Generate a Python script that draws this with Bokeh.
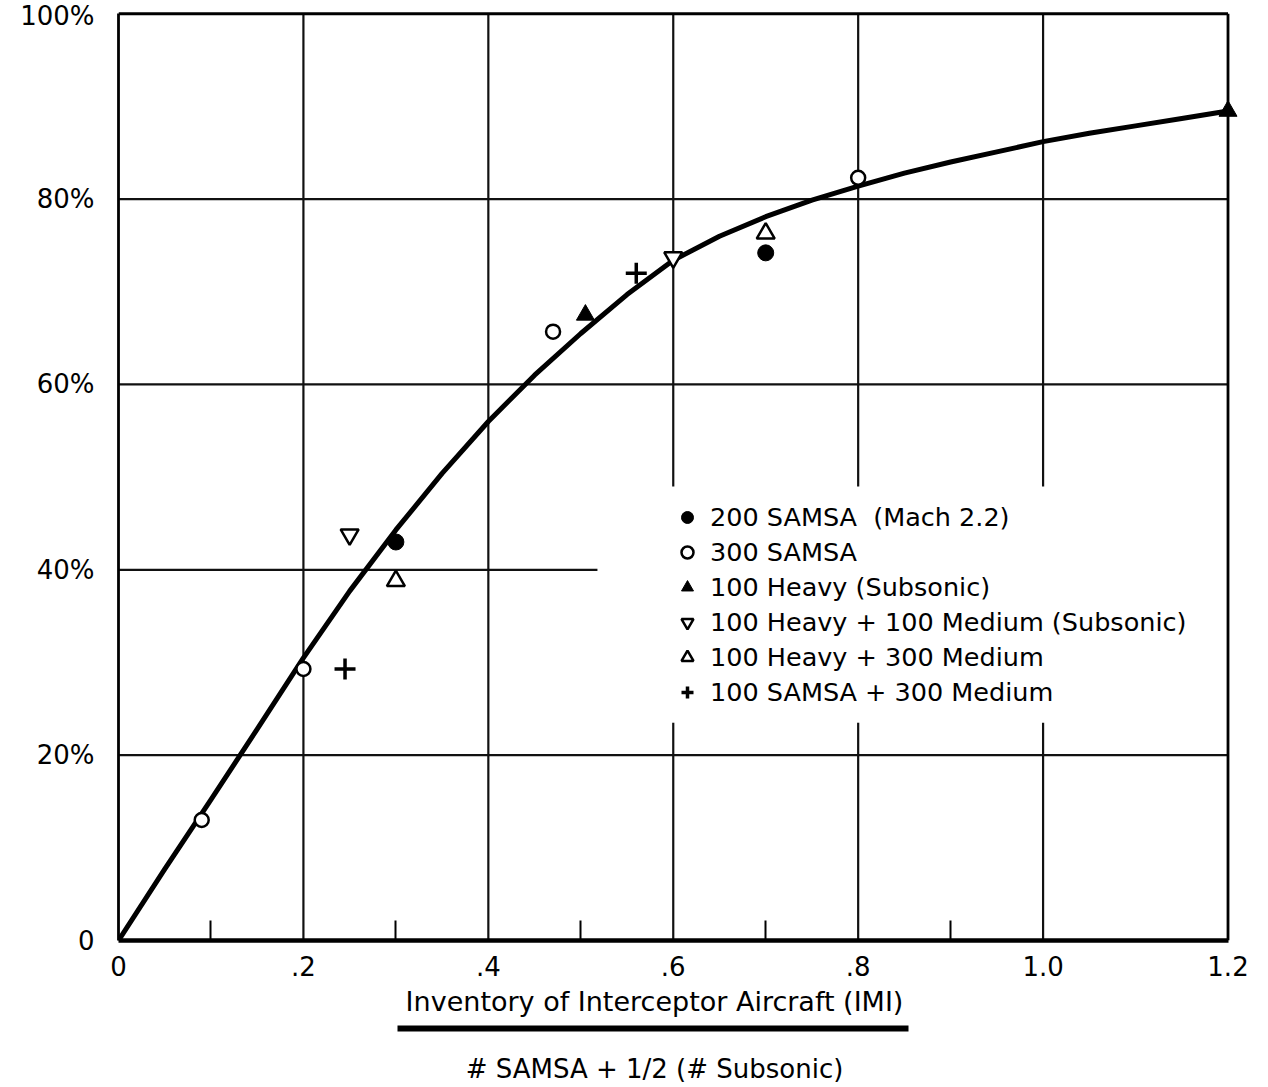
from bokeh.plotting import figure
from bokeh.layouts import column
from bokeh.models import FixedTicker, Legend, LegendItem, Range1d
from bokeh.core.properties import value
from bokeh.embed import file_html
from bokeh.resources import INLINE

FONT = "DejaVu Sans"

# axis ticks
x_ticks = [0, 0.2, 0.4, 0.6, 0.8, 1.0, 1.2]
x_tick_labels = ["0", ".2", ".4", ".6", ".8", "1.0", "1.2"]
x_minor_ticks = [0.1, 0.3, 0.5, 0.7, 0.9]
y_ticks = [0, 0.2, 0.4, 0.6, 0.8, 1.0]
y_tick_labels = ["0", "20%", "40%", "60%", "80%", "100%"]

# fitted curve
curve_x = [0, 0.05, 0.1, 0.15, 0.2, 0.25, 0.3, 0.35, 0.4, 0.45, 0.5, 0.55, 0.6,
           0.65, 0.7, 0.75, 0.8, 0.85, 0.9, 0.95, 1.0, 1.05, 1.1, 1.15, 1.2]
curve_y = [0, 0.077, 0.152, 0.228, 0.305, 0.377, 0.443, 0.504, 0.560, 0.610,
           0.655, 0.697, 0.734, 0.760, 0.781, 0.799, 0.814, 0.828, 0.840, 0.851,
           0.862, 0.871, 0.879, 0.887, 0.895]

# observed cases
samsa200_x = [0.30, 0.70]
samsa200_y = [0.430, 0.742]
samsa300_x = [0.09, 0.20, 0.47, 0.80]
samsa300_y = [0.130, 0.293, 0.657, 0.823]
heavy_x = [0.505, 1.20]
heavy_y = [0.675, 0.895]
heavy_med100_x = [0.25, 0.60]
heavy_med100_y = [0.438, 0.737]
heavy_med300_x = [0.30, 0.70]
heavy_med300_y = [0.388, 0.763]
samsa_med300_x = [0.245, 0.56]
samsa_med300_y = [0.293, 0.720]

legend_labels = [
    "200 SAMSA  (Mach 2.2)",
    "300 SAMSA",
    "100 Heavy (Subsonic)",
    "100 Heavy + 100 Medium (Subsonic)",
    "100 Heavy + 300 Medium",
    "100 SAMSA + 300 Medium",
]

x_title = "Inventory of Interceptor Aircraft (IMI)"
x_title_denominator = "# SAMSA + 1/2 (# Subsonic)"

# grid layout: full lines, and lines broken around the legend block
vgrid_full = [0.2, 0.4]
vgrid_broken = [0.6, 0.8, 1.0]
legend_gap = (0.235, 0.49)
hgrid_full = [0.2, 0.6, 0.8]
hgrid_short = [0.4]
hgrid_short_end = 0.518
X_MAX, Y_MAX = 1.2, 1.0

FRAME_LEFT, FRAME_RIGHT_PAD, FIG_W = 118, 22, 1268

p = figure(width=FIG_W, height=985, output_backend="svg", toolbar_location=None,
           x_range=Range1d(0, 1.22), y_range=Range1d(0, 1.01),
           min_border_left=FRAME_LEFT, min_border_right=FRAME_RIGHT_PAD,
           min_border_top=4, min_border_bottom=45)
p.outline_line_color = None
p.xgrid.visible = False
p.ygrid.visible = False
p.background_fill_color = "white"
p.border_fill_color = "white"

GRID_W = 2.2
GRID_C = "#111111"

# vertical grid lines
p.segment(x0=vgrid_full, y0=[0] * len(vgrid_full), x1=vgrid_full,
          y1=[Y_MAX] * len(vgrid_full), line_color=GRID_C, line_width=GRID_W)
p.segment(x0=vgrid_broken, y0=[legend_gap[1]] * 3, x1=vgrid_broken,
          y1=[Y_MAX] * 3, line_color=GRID_C, line_width=GRID_W)
p.segment(x0=vgrid_broken, y0=[0] * 3, x1=vgrid_broken,
          y1=[legend_gap[0]] * 3, line_color=GRID_C, line_width=GRID_W)
# horizontal grid lines
p.segment(x0=[0] * len(hgrid_full), y0=hgrid_full, x1=[X_MAX] * len(hgrid_full),
          y1=hgrid_full, line_color=GRID_C, line_width=GRID_W)
p.segment(x0=[0], y0=hgrid_short, x1=[hgrid_short_end], y1=hgrid_short,
          line_color=GRID_C, line_width=GRID_W)
# top and right frame edges
p.segment(x0=[0, X_MAX], y0=[Y_MAX, 0], x1=[X_MAX, X_MAX], y1=[Y_MAX, Y_MAX],
          line_color="black", line_width=2.8)

# axes
xa = p.xaxis[0]
xa.bounds = (0, X_MAX)
xa.ticker = FixedTicker(ticks=x_ticks, minor_ticks=x_minor_ticks)
xa.major_label_overrides = {t: s for t, s in zip(x_ticks, x_tick_labels)}
xa.axis_line_width = 4.5
xa.axis_line_color = "black"
xa.major_tick_in = 0
xa.major_tick_out = 0
xa.minor_tick_in = 20
xa.minor_tick_out = 0
xa.minor_tick_line_width = 2
xa.minor_tick_line_color = "black"
xa.major_label_standoff = 15
xa.major_label_text_font = FONT
xa.major_label_text_font_size = "26px"
xa.major_label_text_color = "black"

ya = p.yaxis[0]
ya.bounds = (0, Y_MAX)
ya.ticker = FixedTicker(ticks=y_ticks, minor_ticks=[])
ya.major_label_overrides = {t: s for t, s in zip(y_ticks, y_tick_labels)}
ya.axis_line_width = 2.8
ya.axis_line_color = "black"
ya.major_tick_in = 0
ya.major_tick_out = 0
ya.minor_tick_in = 0
ya.minor_tick_out = 0
ya.major_label_standoff = 24
ya.major_label_text_font = FONT
ya.major_label_text_font_size = "26px"
ya.major_label_text_color = "black"

# fitted curve
p.line(curve_x, curve_y, line_color="black", line_width=5, line_join="round",
       line_cap="round")

# observed cases
r1 = p.scatter(samsa200_x, samsa200_y, marker="circle", size=16,
               fill_color="black", line_color="black", line_width=1)
r2 = p.scatter(samsa300_x, samsa300_y, marker="circle", size=14,
               fill_color="white", line_color="black", line_width=2.5)
r3 = p.scatter(heavy_x, heavy_y, marker="triangle", size=18,
               fill_color="black", line_color="black", line_width=1)
r4 = p.scatter(heavy_med100_x, heavy_med100_y, marker="inverted_triangle",
               size=18, fill_color="white", line_color="black", line_width=2.5)
r5 = p.scatter(heavy_med300_x, heavy_med300_y, marker="triangle", size=18,
               fill_color="white", line_color="black", line_width=2.5)
r6 = p.scatter(samsa_med300_x, samsa_med300_y, marker="cross", size=21,
               line_color="black", line_width=3.5)

legend = Legend(
    items=[LegendItem(label=lbl, renderers=[r])
           for lbl, r in zip(legend_labels, [r1, r2, r3, r4, r5, r6])],
    location=(554, 233),
    border_line_color=None, background_fill_alpha=0,
    padding=0, margin=0, spacing=5,
    glyph_width=30, glyph_height=30, label_height=30, label_standoff=8,
    label_text_font=FONT, label_text_font_size="25.5px",
    label_text_color="black",
)
p.add_layout(legend)

# x-axis quantity written as a fraction, in a strip under the chart.
# The column aligns this strip's frame with the chart frame, so its
# x range is given in page pixels over that same span.
q = figure(width=FIG_W, height=100, output_backend="svg", toolbar_location=None,
           x_range=Range1d(FRAME_LEFT, FIG_W - FRAME_RIGHT_PAD),
           y_range=Range1d(0, 100),
           x_axis_type=None, y_axis_type=None,
           min_border_left=FRAME_LEFT, min_border_right=FRAME_RIGHT_PAD,
           min_border_top=0, min_border_bottom=0)
q.outline_line_color = None
q.xgrid.visible = False
q.ygrid.visible = False
q.text(x=[654], y=[84], text=[x_title], text_align="center",
       text_baseline="middle", text_font=value(FONT), text_font_size="27px",
       text_color="black")
q.quad(left=[397], right=[908], bottom=[54], top=[60], fill_color="black",
       line_color=None)
q.text(x=[654], y=[17], text=[x_title_denominator], text_align="center",
       text_baseline="middle", text_font=value(FONT), text_font_size="26px",
       text_color="black")

open("out.html", "w").write(file_html(column(p, q, spacing=0), INLINE))
